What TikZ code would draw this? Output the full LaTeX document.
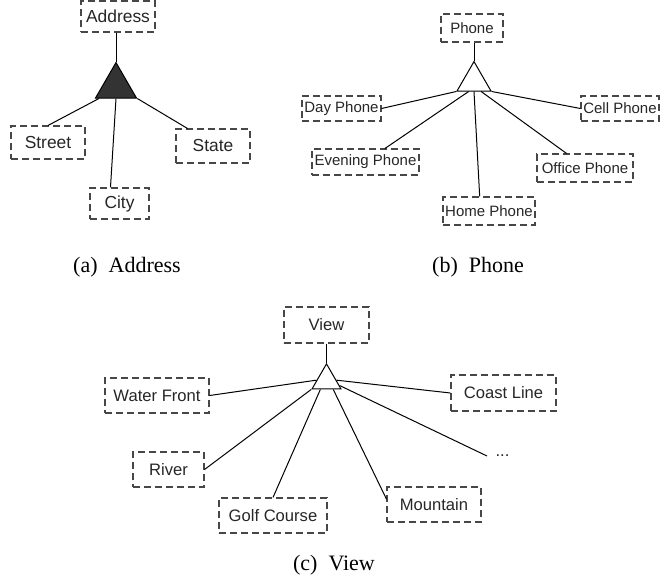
\documentclass[tikz,border=0pt]{standalone}
\usepackage{fontspec}
\setmainfont{Liberation Serif}
\setsansfont{Liberation Sans}
\usetikzlibrary{                          % TikZ libraries
                calc,                     % .
                shapes.geometric}         % .

\begin{document}
\begin{tikzpicture}[x=0.5pt,y=-0.5pt
                    ]
                % define styles
\tikzset{attr/.style={rectangle,
                       draw=black!72,
                       dash pattern=on 3.4pt off 2.1pt,
                       line width=0.55pt,
                       inner sep=0,
                       text=black!85,
                       },
         attrA/.style={attr,
                       font=\sffamily\fontsize{8.7}{10}\selectfont,
                       },
         attrB/.style={attr,
                       font=\sffamily\fontsize{7.5}{9}\selectfont,
                       },
         attrC/.style={attr,
                       font=\sffamily\fontsize{8.3}{10}\selectfont,
                       },
         tri/.style={regular polygon,
                       regular polygon sides=3,
                       draw=black,
                       line width=0.5pt,
                       inner sep=0,
                       },
         link/.style={draw=black,
                       line width=0.5pt,
                       },
         subcap/.style={font=\fontsize{11}{13}\selectfont,
                       inner sep=0,
                       }
}

\useasboundingbox (0,0) rectangle (660,585);

% (a) address
\node[tri, fill=black!80, minimum size=23.67pt] (tria) at (116.0000,86.2000) {};
\node[attrA, minimum width=37pt,   minimum height=15.5pt] (address) at (118.0000,16.5000)  {Address};
\node[attrA, minimum width=37pt,   minimum height=16.5pt] (street)  at (48.0000,142.5000)  {Street};
\node[attrA, minimum width=29.5pt, minimum height=15.5pt] (city)    at (119.5000,203.5000) {City};
\node[attrA, minimum width=37pt,   minimum height=17pt]   (state)   at (213.0000,146.0000) {State};

\draw[link] (address.south -| tria.corner 1) -- (tria.corner 1);
\draw[link] ($(tria.corner 2)!0.1!(tria.corner 3)$) -- (street.north);
\draw[link] (tria.south) -- ($(city.north west)!0.35!(city.north east)$);
\draw[link] (tria.corner 3) -- ($(state.north west)!0.16!(state.north east)$);

% (b) phone
\node[tri, fill=white, minimum size=19.63pt] (trib) at (474.0000,81.2000) {};
\node[attrB, minimum width=31pt,   minimum height=14pt]   (phone)        at (472.0000,28.0000)  {Phone};
\node[attrB, minimum width=39.5pt, minimum height=12.5pt] (dayphone)     at (341.5000,108.5000) {Day Phone};
\node[attrB, minimum width=39pt,   minimum height=12.5pt] (cellphone)    at (620.0000,108.5000) {Cell Phone};
\node[attrB, minimum width=53.5pt, minimum height=13pt]   (eveningphone) at (365.5000,162.0000) {Evening Phone};
\node[attrB, minimum width=48pt,   minimum height=14pt]   (officephone)  at (585.0000,168.0000) {Office Phone};
\node[attrB, minimum width=46pt,   minimum height=14pt]   (homephone)    at (489.0000,211.0000) {Home Phone};

\draw[link] (phone.south -| trib.corner 1) -- (trib.corner 1);
\draw[link] (trib.corner 2) -- (dayphone.east);
\draw[link] (trib.corner 3) -- (cellphone.west);
\foreach \name/\base/\top in {eveningphone/0.35/0.68, officephone/0.7/0.31, homephone/0.5/0.4}
    \draw[link] ($(trib.corner 2)!\base!(trib.corner 3)$) -- ($(\name.north west)!\top!(\name.north east)$);

% (c) view
\node[tri, fill=white, minimum size=16.74pt] (tric) at (326.5000,380.6000) {};
\node[attrC, minimum width=42.5pt, minimum height=18pt]   (view)       at (326.5000,325.0000) {View};
\node[attrC, minimum width=52pt,   minimum height=17.5pt] (waterfront) at (157.0000,395.5000) {Water Front};
\node[attrC, minimum width=52.5pt, minimum height=18pt]   (coastline)  at (503.5000,393.0000) {Coast Line};
\node[attrC, minimum width=35.5pt, minimum height=17.5pt] (river)      at (168.5000,469.5000) {River};
\node[attrC, minimum width=54pt,   minimum height=17.5pt] (golfcourse) at (273.0000,515.5000) {Golf Course};
\node[attrC, minimum width=47pt,   minimum height=17.5pt] (mountain)   at (434.0000,504.5000) {Mountain};
\node[attrC, draw=none, inner xsep=4pt, inner ysep=0, anchor=west] (dots) at (487.0000,456.0000) {...};

\draw[link] (view.south -| tric.corner 1) -- (tric.corner 1);
\draw[link] ($(tric.corner 1)!0.65!(tric.corner 2)$) -- (waterfront.east);
\draw[link] ($(tric.corner 1)!0.65!(tric.corner 3)$) -- (coastline.west);
\draw[link] (tric.corner 2) -- (river.east);
\draw[link] ($(tric.corner 2)!0.3!(tric.corner 3)$) -- (golfcourse.north);
\draw[link] ($(tric.corner 2)!0.72!(tric.corner 3)$) -- ($(mountain.north west)!0.35!(mountain.south west)$);
\draw[link] ($(tric.corner 1)!0.85!(tric.corner 3)$) -- (dots.west);

% labels
\node[subcap] (capa) at (127.0000,267.0000) {(a)\enspace Address};
\node[subcap] (capb) at (478.0000,267.0000) {(b)\enspace Phone};
\node[subcap] (capc) at (334.0000,565.0000) {(c)\enspace View};

\end{tikzpicture}
\end{document}
